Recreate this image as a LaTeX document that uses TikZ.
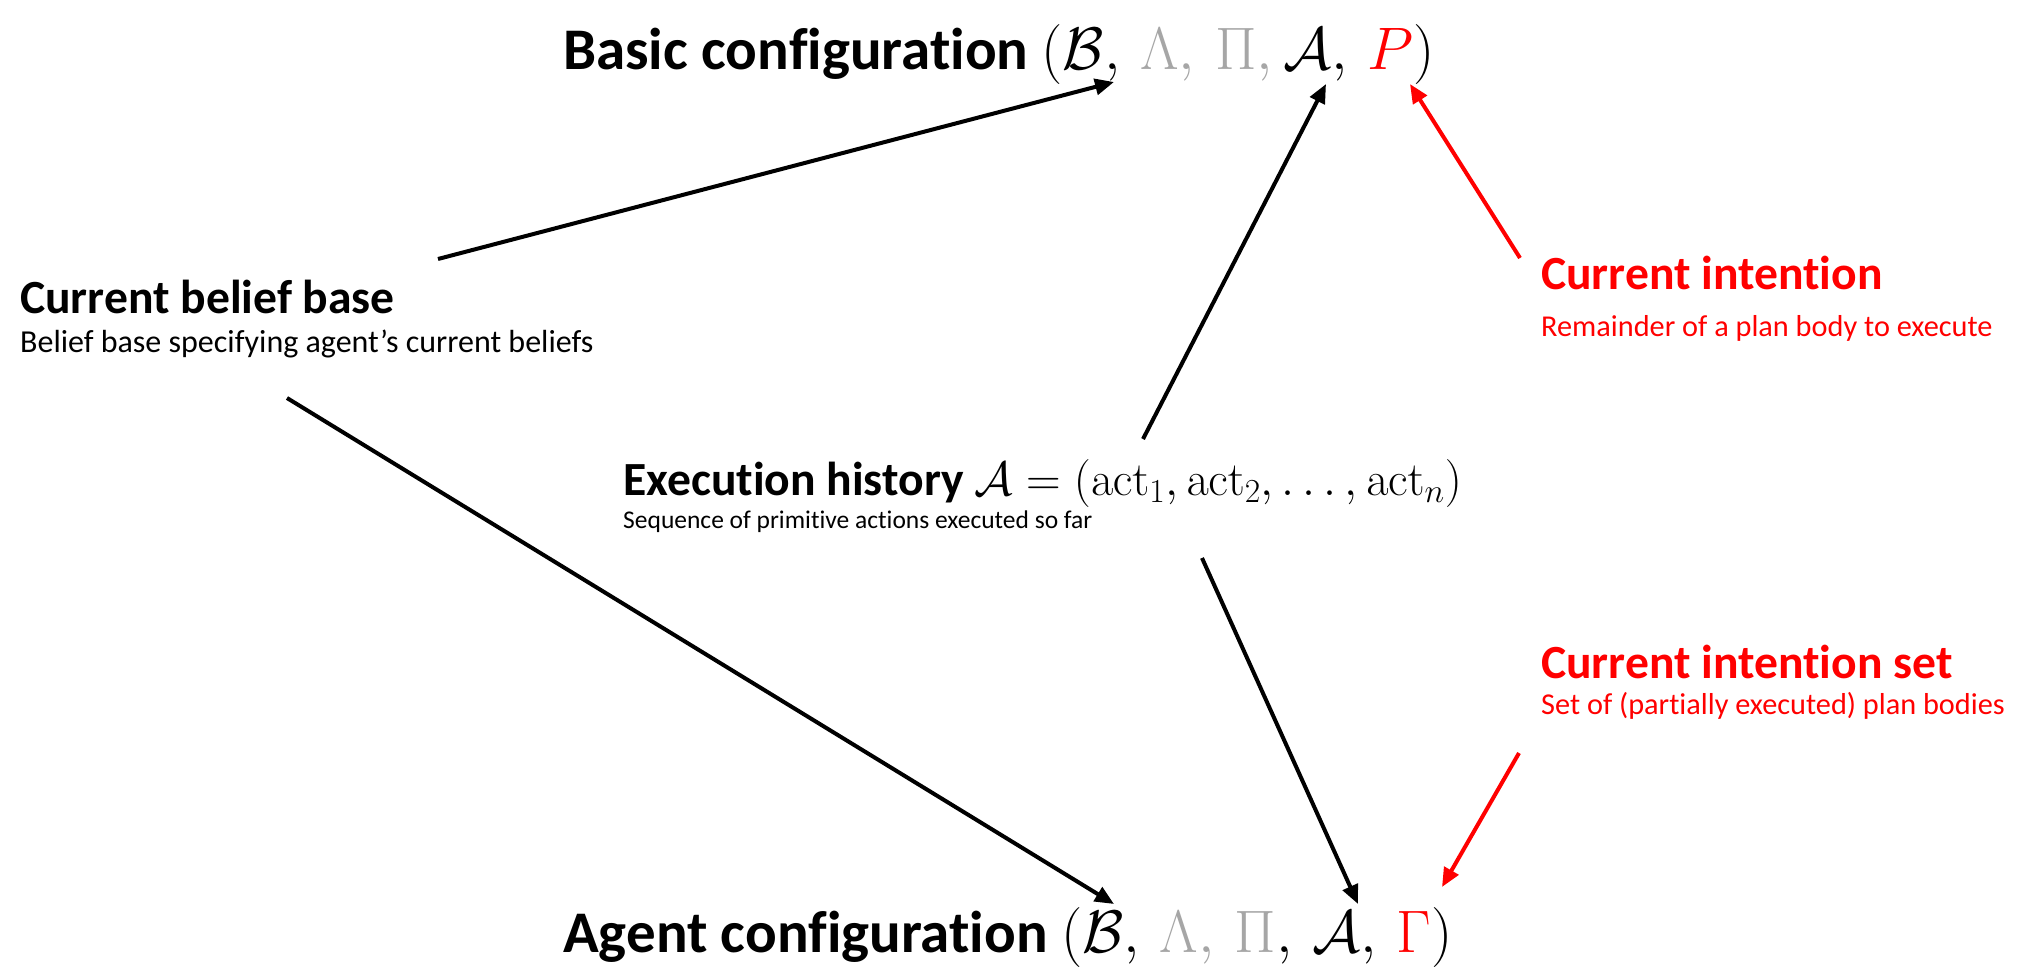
\RequirePackage{fix-cm}
\documentclass[tikz,border=0pt]{standalone}
\usepackage[no-math]{fontspec}
\setmainfont{Carlito}[Ligatures=NoCommon, RawFeature={-liga;-clig;-calt;-dlig}]
\usetikzlibrary{arrows.meta}
\definecolor{accent}{HTML}{FF0000}
\definecolor{muted}{HTML}{A6A6A6}
% math set at a chosen size, upright weight
\newcommand{\sizedmath}[2]{{\fontsize{#1}{#1}\selectfont\mdseries$#2$}}
\begin{document}
\begin{tikzpicture}[x=1pt,y=-1pt,
  heading/.style={anchor=base west, inner sep=0pt, font=\fontsize{59}{70}\selectfont\bfseries},
  label/.style={anchor=base west, inner sep=0pt, font=\fontsize{47.6}{56}\selectfont\bfseries},
  note/.style={anchor=base west, inner sep=0pt, font=\fontsize{30.3}{36}\selectfont},
  link/.style={line width=4pt, -{Triangle[length=19pt,width=16pt]}},
]
\useasboundingbox[fill=white] (0,0) rectangle (2044,967);

% configuration headings
\node[heading] (basic) at (563,69)
  {Basic configuration \sizedmath{60}{\bigl(\mathcal{B},\, {\color{muted}\Lambda,\, \Pi,}\, \mathcal{A},\, {\color{accent}P}\bigr)}};
\node[heading] (agent) at (563,952)
  {Agent configuration \sizedmath{60}{\bigl(\mathcal{B},\, {\color{muted}\Lambda,\, \Pi},\, \mathcal{A},\, {\color{accent}\Gamma}\bigr)}};

% components
\node[label] (belief) at (20,313) {Current belief base};
\node[note, font=\fontsize{32}{38}\selectfont] (beliefnote) at (20,352) {Belief base specifying agent’s current beliefs};

\node[label] (history) at (623,495)
  {Execution history \sizedmath{48}{\mathcal{A} = (\mathrm{act}_1, \mathrm{act}_2, \dots, \mathrm{act}_n)}};
\node[note, font=\fontsize{25.5}{31}\selectfont] (historynote) at (623,528) {Sequence of primitive actions executed so far};

\node[label, text=accent] (intent) at (1541,289) {Current intention};
\node[note, text=accent] (intentnote) at (1541,336) {Remainder of a plan body to execute};

\node[label, text=accent] (intentset) at (1541,678) {Current intention set};
\node[note, text=accent] (intentsetnote) at (1541,714) {Set of (partially executed) plan bodies};

% connector end points
\coordinate (b1) at (438,259);   \coordinate (t1) at (1114,82);
\coordinate (h1) at (1143,439);  \coordinate (t2) at (1326,84);
\coordinate (i1) at (1520,258);  \coordinate (t3) at (1410,84);
\coordinate (b2) at (287,398);   \coordinate (u1) at (1114,904);
\coordinate (h2) at (1202,558);  \coordinate (u2) at (1358,904);
\coordinate (s1) at (1519,753);  \coordinate (u3) at (1442,887);

\draw[link] (b1) -- (t1);
\draw[link] (h1) -- (t2);
\draw[link, draw=accent, fill=accent] (i1) -- (t3);
\draw[link] (b2) -- (u1);
\draw[link] (h2) -- (u2);
\draw[link, draw=accent, fill=accent] (s1) -- (u3);
\end{tikzpicture}
\end{document}
